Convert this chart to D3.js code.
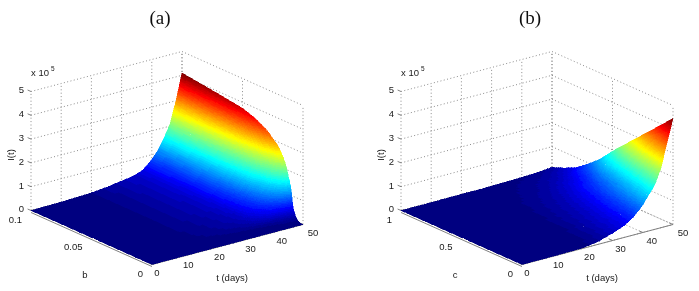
<!DOCTYPE html>
<html>
<head>
<meta charset="utf-8">
<script src="https://cdn.jsdelivr.net/npm/d3@7"></script>
<style>
    html, body { margin: 0; padding: 0; background: #fff; }
    svg { display: block; }
    text { font-family: "Liberation Sans", sans-serif; font-size: 9.5px; fill: #1a1a1a; }
    .title { font-family: "Liberation Serif", serif; font-size: 19px; fill: #111; }
    .grid { stroke: #808080; stroke-width: 0.9; stroke-dasharray: 1 2.4; fill: none; }
    .axis { stroke: #808080; stroke-width: 1; fill: none; }
</style>
</head>
<body>
<div id="chart"></div>
<script>
// values, I(t) in units of 1e5
const tDays = [0, 10, 20, 25, 30, 34, 37, 40, 42, 44, 46, 48, 50];
const bValues = [0, 0.002, 0.004, 0.006, 0.008, 0.01, 0.0125, 0.015, 0.02, 0.03, 0.04, 0.05, 0.07, 0.1];
const cValues = [0, 0.1, 0.2, 0.3, 0.4, 0.5, 0.6, 0.7, 0.8, 0.9, 1];

const tTicks = [0, 10, 20, 30, 40, 50];
const zTicks = [0, 1, 2, 3, 4, 5];
const bTicks = [0, 0.05, 0.1];
const cTicks = [0, 0.5, 1];

// one row per b value
const surfaceA = [
    [0, 0, 0, 0, 0, 0, 0, 0, 0, 0, 0, 0, 0],
    [0, 0, 0, 0, 0, 0, 0, 0, 0, 0, 0, 0.01, 0.01],
    [0, 0, 0, 0, 0, 0, 0.01, 0.01, 0.01, 0.02, 0.03, 0.04, 0.05],
    [0, 0, 0, 0.01, 0.01, 0.01, 0.02, 0.03, 0.05, 0.07, 0.09, 0.13, 0.18],
    [0, 0, 0.01, 0.02, 0.03, 0.04, 0.06, 0.10, 0.14, 0.19, 0.26, 0.37, 0.5],
    [0, 0.01, 0.02, 0.04, 0.07, 0.10, 0.14, 0.25, 0.35, 0.49, 0.66, 0.95, 1.3],
    [0, 0.01, 0.03, 0.06, 0.10, 0.14, 0.20, 0.36, 0.50, 0.69, 0.94, 1.35, 1.85],
    [0, 0.01, 0.04, 0.08, 0.13, 0.17, 0.25, 0.45, 0.62, 0.86, 1.17, 1.68, 2.3],
    [0, 0.01, 0.05, 0.09, 0.15, 0.21, 0.31, 0.55, 0.76, 1.05, 1.43, 2.04, 2.8],
    [0, 0.02, 0.06, 0.11, 0.18, 0.25, 0.36, 0.64, 0.89, 1.24, 1.68, 2.41, 3.3],
    [0, 0.02, 0.06, 0.12, 0.20, 0.27, 0.39, 0.70, 0.97, 1.34, 1.83, 2.61, 3.58],
    [0, 0.02, 0.07, 0.12, 0.21, 0.28, 0.41, 0.73, 1.01, 1.41, 1.91, 2.74, 3.75],
    [0, 0.02, 0.07, 0.13, 0.21, 0.29, 0.43, 0.76, 1.05, 1.46, 1.99, 2.85, 3.9],
    [0, 0.02, 0.07, 0.14, 0.23, 0.31, 0.45, 0.80, 1.11, 1.54, 2.09, 2.99, 4.1]
];

// one row per c value
const surfaceB = [
    [0, 0, 0.02, 0.11, 0.31, 0.51, 0.76, 1.16, 1.52, 1.87, 2.50, 3.48, 4.46],
    [0, 0, 0.02, 0.09, 0.28, 0.45, 0.67, 1.03, 1.34, 1.66, 2.21, 3.08, 3.95],
    [0, 0, 0.02, 0.08, 0.24, 0.40, 0.59, 0.90, 1.17, 1.45, 1.93, 2.69, 3.45],
    [0, 0, 0.01, 0.07, 0.21, 0.34, 0.50, 0.77, 1.00, 1.24, 1.65, 2.30, 2.95],
    [0, 0, 0.01, 0.06, 0.18, 0.29, 0.43, 0.65, 0.85, 1.04, 1.38, 1.91, 2.45],
    [0, 0, 0.01, 0.05, 0.15, 0.24, 0.35, 0.53, 0.69, 0.85, 1.11, 1.53, 1.95],
    [0, 0, 0.01, 0.04, 0.12, 0.19, 0.27, 0.39, 0.51, 0.62, 0.80, 1.09, 1.39],
    [0, 0, 0.01, 0.03, 0.09, 0.14, 0.20, 0.28, 0.36, 0.44, 0.56, 0.77, 0.96],
    [0, 0, 0.01, 0.03, 0.06, 0.09, 0.13, 0.18, 0.23, 0.27, 0.35, 0.46, 0.57],
    [0, 0, 0.01, 0.02, 0.04, 0.06, 0.09, 0.12, 0.14, 0.17, 0.22, 0.28, 0.33],
    [0, 0, 0.01, 0.01, 0.02, 0.03, 0.04, 0.05, 0.06, 0.07, 0.09, 0.11, 0.13]
];

const width = 699;
const height = 291;
const svg = d3.select("#chart").append("svg").attr("width", width).attr("height", height);

// the reference is a soft, resampled image
svg.append("filter").attr("id", "soft")
    .attr("filterUnits", "userSpaceOnUse")
    .attr("x", 0).attr("y", 0)
    .attr("width", width).attr("height", height)
    .append("feGaussianBlur").attr("stdDeviation", 0.4);
const root = svg.append("g").attr("filter", "url(#soft)");

// matlab jet, 64 steps
const jetRamp = d3.scaleLinear()
    .domain([0, 0.125, 0.375, 0.625, 0.875, 1])
    .range(["#000080", "#0000ff", "#00ffff", "#ffff00", "#ff0000", "#800000"]);
const jet = (v) => jetRamp(Math.min(63, Math.floor(v * 64)) / 63);

drawPanel({x: 31, y: 210.5, title: "(a)", titleX: 160, yName: "b", yValues: bValues, yTicks: bTicks, z: surfaceA});
drawPanel({x: 401, y: 210.5, title: "(b)", titleX: 530, yName: "c", yValues: cValues, yTicks: cTicks, z: surfaceB});

function drawPanel(p) {
    let g = root.append("g").attr("transform", `translate(${p.x}, ${p.y})`);
    let yMax = d3.max(p.yValues);

    // the box is an oblique projection, one pair of scales per direction
    let tX = d3.scaleLinear().domain([0, 50]).range([0, 151]);
    let tY = d3.scaleLinear().domain([0, 50]).range([0, -40]);
    let yX = d3.scaleLinear().domain([yMax, 0]).range([0, 121]);
    let yY = d3.scaleLinear().domain([yMax, 0]).range([0, 54]);
    let zY = d3.scaleLinear().domain([0, 5]).range([0, -119]);
    let proj = (t, y, z) => [tX(t) + yX(y), tY(t) + yY(y) + zY(z)];

    let segment = (a, b, cls) => g.append("line")
        .attr("class", cls)
        .attr("x1", a[0]).attr("y1", a[1])
        .attr("x2", b[0]).attr("y2", b[1]);

    // dotted grid on floor and the two back walls
    tTicks.forEach((t) => {
        segment(proj(t, 0, 0), proj(t, yMax, 0), "grid");
        segment(proj(t, yMax, 0), proj(t, yMax, 5), "grid");
    });
    p.yTicks.forEach((y) => {
        segment(proj(0, y, 0), proj(50, y, 0), "grid");
        segment(proj(50, y, 0), proj(50, y, 5), "grid");
    });
    zTicks.forEach((z) => {
        segment(proj(0, yMax, z), proj(50, yMax, z), "grid");
        segment(proj(50, yMax, z), proj(50, 0, z), "grid");
    });

    // axis lines and ticks
    segment(proj(0, 0, 0), proj(50, 0, 0), "axis");
    tTicks.forEach((t) => {
        let a = proj(t, 0, 0);
        segment(a, [a[0] - 3.4, a[1] - 1.5], "axis");
    });
    p.yTicks.forEach((y) => {
        let a = proj(0, y, 0);
        segment(a, [a[0] + 3.4, a[1] - 1], "axis");
    });
    zTicks.forEach((z) => {
        let a = proj(0, yMax, z);
        segment(a, [a[0] - 3.4, a[1] - 1.5], "axis");
    });

    // surface, far cells first, colours shaded inside each cell like shading interp
    let zMax = d3.max(p.z, (row) => d3.max(row));
    let surface = g.append("g").attr("shape-rendering", "crispEdges");
    for (let i = p.yValues.length - 2; i >= 0; i--) {
        for (let j = tDays.length - 2; j >= 0; j--) {
            let y0 = p.yValues[i], y1 = p.yValues[i + 1];
            let t0 = tDays[j], t1 = tDays[j + 1];
            let z00 = p.z[i][j], z01 = p.z[i][j + 1], z10 = p.z[i + 1][j], z11 = p.z[i + 1][j + 1];
            // steep cells need more pieces or the colour steps show
            let nT = 2 + Math.ceil(Math.max(Math.abs(z01 - z00), Math.abs(z11 - z10)) / zMax * 96);
            let nY = 2 + Math.ceil(Math.max(Math.abs(z10 - z00), Math.abs(z11 - z01)) / zMax * 96);
            let corner = (u, v) => {
                let z = d3.interpolate(d3.interpolate(z00, z01)(u), d3.interpolate(z10, z11)(u))(v);
                return {pos: proj(t0 + (t1 - t0) * u, y0 + (y1 - y0) * v, z), z: z};
            };
            for (let a = nY - 1; a >= 0; a--) {
                for (let b = nT - 1; b >= 0; b--) {
                    let q = [corner(b / nT, a / nY), corner((b + 1) / nT, a / nY),
                        corner((b + 1) / nT, (a + 1) / nY), corner(b / nT, (a + 1) / nY)];
                    let color = jet(d3.mean(q, (d) => d.z) / zMax);
                    surface.append("polygon")
                        .attr("points", q.map((d) => d.pos.map((n) => n.toFixed(2)).join(",")).join(" "))
                        .attr("fill", color)
                        .attr("stroke", color)
                        .attr("stroke-width", 0.5);
                }
            }
        }
    }

    // the y axis shows as a grey line just under the surface edge
    segment([proj(0, yMax, 0)[0], proj(0, yMax, 0)[1] + 2], [proj(0, 0, 0)[0], proj(0, 0, 0)[1] + 2], "axis");

    // tick labels
    tTicks.forEach((t) => {
        let a = proj(t, 0, 0);
        g.append("text").attr("x", a[0] + 5 + t * 0.1).attr("y", a[1] + 8.5)
            .attr("dy", "0.35em").attr("text-anchor", "middle").text(t);
    });
    p.yTicks.forEach((y) => {
        let a = proj(0, y, 0);
        g.append("text").attr("x", a[0] - 9).attr("y", a[1] + 9.5)
            .attr("dy", "0.35em").attr("text-anchor", "end").text(y);
    });
    zTicks.forEach((z) => {
        let a = proj(0, yMax, z);
        g.append("text").attr("x", a[0] - 7).attr("y", a[1] - 1.5)
            .attr("dy", "0.35em").attr("text-anchor", "end").text(z);
    });

    // axis names
    g.append("text").attr("x", 54).attr("y", 64.5).attr("dy", "0.35em").attr("text-anchor", "middle").text(p.yName);
    g.append("text").attr("x", 201).attr("y", 67.5).attr("dy", "0.35em").attr("text-anchor", "middle").text("t (days)");
    g.append("text").attr("transform", "translate(-20, -55.5) rotate(-90)")
        .attr("dy", "0.35em").attr("text-anchor", "middle").text("I(t)");

    // exponent above the z axis
    g.append("text").attr("x", 0).attr("y", -134.5).text("x 10");
    g.append("text").attr("x", 20).attr("y", -139.5).style("font-size", "6.5px").text("5");

    root.append("text").attr("class", "title").attr("x", p.titleX).attr("y", 24)
        .attr("text-anchor", "middle").text(p.title);
}
</script>
</body>
</html>
